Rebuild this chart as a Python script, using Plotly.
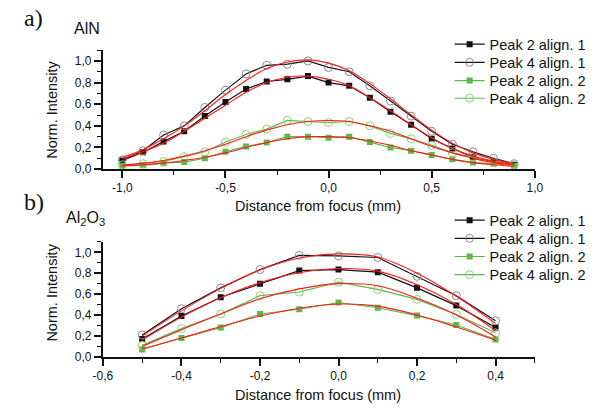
import plotly.graph_objects as go

# ---------------- data: panel a) AlN ----------------
x_a = [-1.0, -0.9, -0.8, -0.7, -0.6, -0.5, -0.4, -0.3, -0.2, -0.1,
       0.0, 0.1, 0.2, 0.3, 0.4, 0.5, 0.6, 0.7, 0.8, 0.9]
a_p2_al1 = [0.08, 0.155, 0.255, 0.35, 0.49, 0.62, 0.74, 0.81, 0.83, 0.86,
            0.80, 0.77, 0.66, 0.53, 0.41, 0.28, 0.19, 0.11, 0.07, 0.04]
a_p4_al1 = [0.085, 0.17, 0.315, 0.40, 0.57, 0.73, 0.88, 0.96, 0.97, 1.00,
            0.94, 0.90, 0.77, 0.63, 0.49, 0.35, 0.23, 0.16, 0.10, 0.05]
a_p2_al2 = [0.03, 0.035, 0.055, 0.065, 0.10, 0.16, 0.21, 0.245, 0.30, 0.30,
            0.29, 0.30, 0.25, 0.20, 0.17, 0.13, 0.09, 0.06, 0.05, 0.03]
a_p4_al2 = [0.04, 0.05, 0.07, 0.115, 0.16, 0.25, 0.32, 0.37, 0.45, 0.44,
            0.43, 0.44, 0.40, 0.33, 0.28, 0.22, 0.15, 0.11, 0.07, 0.05]
# red fit curves
a_fit_p2_al1 = [0.095, 0.16, 0.24, 0.35, 0.47, 0.59, 0.71, 0.80, 0.85, 0.86,
                0.83, 0.77, 0.66, 0.54, 0.41, 0.29, 0.19, 0.12, 0.07, 0.04]
a_fit_p4_al1 = [0.11, 0.18, 0.28, 0.40, 0.54, 0.69, 0.82, 0.93, 0.99, 1.01,
                0.98, 0.91, 0.79, 0.65, 0.50, 0.36, 0.24, 0.15, 0.09, 0.05]
a_fit_p2_al2 = [0.03, 0.04, 0.055, 0.08, 0.11, 0.15, 0.20, 0.245, 0.28, 0.30,
                0.30, 0.29, 0.26, 0.22, 0.17, 0.13, 0.09, 0.06, 0.04, 0.025]
a_fit_p4_al2 = [0.035, 0.055, 0.08, 0.12, 0.17, 0.23, 0.30, 0.36, 0.41, 0.44,
                0.45, 0.44, 0.40, 0.35, 0.28, 0.21, 0.15, 0.10, 0.06, 0.04]

# ---------------- data: panel b) Al2O3 ----------------
x_b = [-0.5, -0.4, -0.3, -0.2, -0.1, 0.0, 0.1, 0.2, 0.3, 0.4]
b_p2_al1 = [0.17, 0.39, 0.57, 0.70, 0.825, 0.835, 0.81, 0.66, 0.49, 0.28]
b_p4_al1 = [0.21, 0.46, 0.66, 0.835, 0.97, 0.965, 0.95, 0.77, 0.585, 0.345]
b_p2_al2 = [0.07, 0.18, 0.28, 0.41, 0.455, 0.52, 0.47, 0.395, 0.305, 0.165]
b_p4_al2 = [0.11, 0.27, 0.41, 0.585, 0.62, 0.715, 0.645, 0.55, 0.405, 0.23]
b_fit_p2_al1 = [0.16, 0.38, 0.565, 0.71, 0.805, 0.845, 0.82, 0.69, 0.50, 0.25]
b_fit_p4_al1 = [0.20, 0.44, 0.655, 0.83, 0.945, 0.985, 0.955, 0.80, 0.58, 0.32]
b_fit_p2_al2 = [0.075, 0.18, 0.29, 0.39, 0.465, 0.505, 0.485, 0.40, 0.285, 0.16]
b_fit_p4_al2 = [0.10, 0.26, 0.41, 0.555, 0.65, 0.70, 0.68, 0.56, 0.40, 0.19]

names = ["Peak 2 align. 1", "Peak 4 align. 1", "Peak 2 align. 2", "Peak 4 align. 2"]

y_ticks = [0.0, 0.2, 0.4, 0.6, 0.8, 1.0]
y_ticktext = ["0,0", "0,2", "0,4", "0,6", "0,8", "1,0"]
xa_ticks = [-1.0, -0.5, 0.0, 0.5, 1.0]
xa_ticktext = ["-1,0", "-0,5", "0,0", "0,5", "1,0"]
xb_ticks = [-0.6, -0.4, -0.2, 0.0, 0.2, 0.4]
xb_ticktext = ["-0,6", "-0,4", "-0,2", "0,0", "0,2", "0,4"]

BLACK = "#111111"
GREEN = "#5cb848"
RED = "#ff1a1a"

styles = [
    dict(line=dict(color=BLACK, width=1.2),
         marker=dict(symbol="square", size=6, color=BLACK, line=dict(width=0))),
    dict(line=dict(color=BLACK, width=1.2),
         marker=dict(symbol="circle-open", size=8, color="#8a8a8a", line=dict(width=1))),
    dict(line=dict(color=GREEN, width=1.2),
         marker=dict(symbol="square", size=6, color=GREEN, line=dict(width=0))),
    dict(line=dict(color=GREEN, width=1.2),
         marker=dict(symbol="circle-open", size=8, color="#8fd07a", line=dict(width=1))),
]

W, H = 600, 414
# vertical centres (px from top) of the legend rows of each panel
legend_rows = [[45, 63.5, 82, 100], [224, 242.5, 261, 279.5]]

fig = go.Figure()

panels = [
    ("x", "y", x_a, [a_p2_al1, a_p4_al1, a_p2_al2, a_p4_al2],
     [a_fit_p2_al1, a_fit_p4_al1, a_fit_p2_al2, a_fit_p4_al2]),
    ("x2", "y2", x_b, [b_p2_al1, b_p4_al1, b_p2_al2, b_p4_al2],
     [b_fit_p2_al1, b_fit_p4_al1, b_fit_p2_al2, b_fit_p4_al2]),
]

legfont = dict(size=14.5, family="Liberation Sans, Arial, sans-serif", color="#111")
legend_layout = {}
k = 0
for p, (xa, ya, xs, series, fits) in enumerate(panels):
    for i, (name, ys, st) in enumerate(zip(names, series, styles)):
        k += 1
        lname = "legend" if k == 1 else f"legend{k}"
        fig.add_trace(go.Scatter(x=xs, y=ys, name=name, mode="lines+markers",
                                 xaxis=xa, yaxis=ya, legend=lname,
                                 line=st["line"], marker=st["marker"]))
        legend_layout[lname] = dict(
            x=454 / W, y=1 - legend_rows[p][i] / H, xanchor="left", yanchor="middle",
            bgcolor="rgba(0,0,0,0)", borderwidth=0, font=legfont)
    for fy in fits:
        fig.add_trace(go.Scatter(x=xs, y=fy, mode="lines", showlegend=False,
                                 xaxis=xa, yaxis=ya, hoverinfo="skip",
                                 line=dict(color=RED, width=1.1, shape="spline",
                                           smoothing=1.0)))

xdom = [96 / W, 542 / W]
ydom_a = [1 - 172 / H, 1 - 51 / H]
ydom_b = [1 - 363 / H, 1 - 246 / H]

tickfont = dict(family="Liberation Sans, Arial, sans-serif", size=12, color="#111")
axis_common = dict(showline=True, linecolor="#111", linewidth=2, ticks="outside",
                   ticklen=7, tickwidth=1.5, tickcolor="#111", showgrid=False,
                   zeroline=False, tickfont=tickfont, fixedrange=True)
minor_common = dict(ticklen=4, tickwidth=1.2, ticks="outside", tickcolor="#111")

fig.update_layout(
    width=W, height=H,
    margin=dict(l=0, r=0, t=0, b=0),
    paper_bgcolor="white", plot_bgcolor="white",
    font=dict(family="Liberation Sans, Arial, sans-serif", color="#111"),
    xaxis=dict(domain=xdom, range=[-1.094, 1.0], anchor="y",
               tickmode="array", tickvals=xa_ticks, ticktext=xa_ticktext,
               minor=dict(dtick=0.25, tick0=-1.0, **minor_common),
               **axis_common),
    yaxis=dict(domain=ydom_a, range=[0, 1.1], anchor="x",
               tickmode="array", tickvals=y_ticks, ticktext=y_ticktext,
               minor=dict(dtick=0.1, tick0=0, **minor_common),
               **axis_common),
    xaxis2=dict(domain=xdom, range=[-0.6, 0.5], anchor="y2",
                tickmode="array", tickvals=xb_ticks, ticktext=xb_ticktext,
                minor=dict(dtick=0.1, tick0=-0.6, **minor_common),
                **axis_common),
    yaxis2=dict(domain=ydom_b, range=[0, 1.1], anchor="x2",
                tickmode="array", tickvals=y_ticks, ticktext=y_ticktext,
                minor=dict(dtick=0.1, tick0=0, **minor_common),
                **axis_common),
    showlegend=True,
    **legend_layout,
)

ann_font = dict(family="Liberation Sans, Arial, sans-serif", size=14.5, color="#111")
serif = dict(family="Liberation Serif, Times New Roman, serif", size=24, color="#111")
annotations = [
    dict(text="a)", x=12 / W, y=1 - 18 / H, xanchor="left", yanchor="middle", font=serif),
    dict(text="b)", x=12 / W, y=1 - 205 / H, xanchor="left", yanchor="middle", font=serif),
    dict(text="AlN", x=80 / W, y=1 - 29 / H, xanchor="center", yanchor="middle",
         font=dict(family="Liberation Sans, Arial, sans-serif", size=16, color="#111")),
    dict(text="Al<sub>2</sub>O<sub>3</sub>", x=78 / W, y=1 - 222 / H, xanchor="center",
         yanchor="middle",
         font=dict(family="Liberation Sans, Arial, sans-serif", size=16, color="#111")),
    dict(text="Distance from focus (mm)", x=318 / W, y=1 - 210 / H, xanchor="center",
         yanchor="middle", font=ann_font),
    dict(text="Distance from focus (mm)", x=318 / W, y=1 - 402 / H, xanchor="center",
         yanchor="middle", font=ann_font),
    dict(text="Norm. Intensity", x=43 / W, y=1 - 112 / H, xanchor="center",
         yanchor="middle", textangle=-90, font=ann_font),
    dict(text="Norm. Intensity", x=43 / W, y=1 - 298 / H, xanchor="center",
         yanchor="middle", textangle=-90, font=ann_font),
]
for a in annotations:
    a.update(xref="paper", yref="paper", showarrow=False)
fig.update_layout(annotations=annotations)

# remove the browser's default 8px page margin so the 600x414 figure fills the window
fig.write_html("out.html",
               config={"displayModeBar": False},
               post_script="document.body.style.margin='0px';")
